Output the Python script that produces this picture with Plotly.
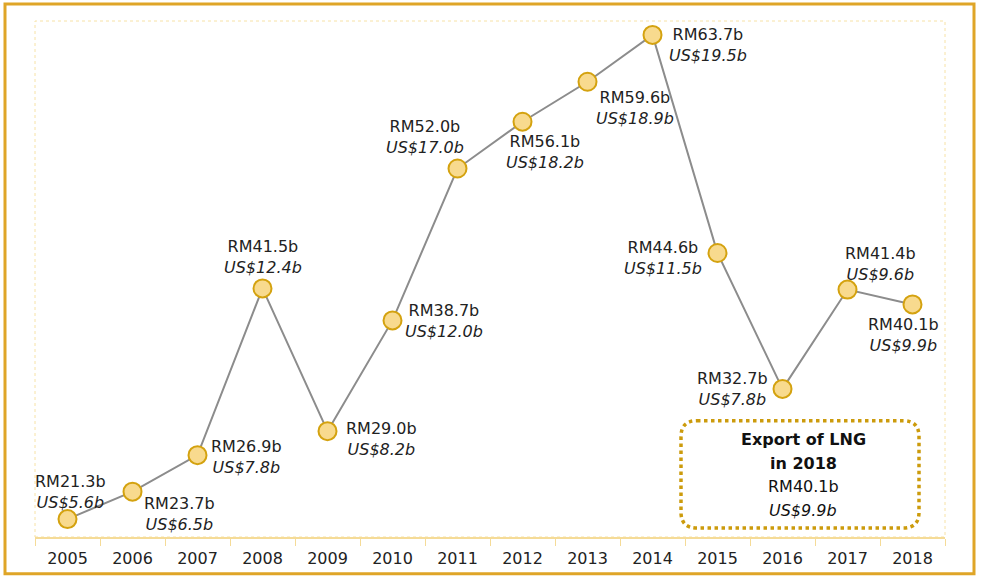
import plotly.graph_objects as go

years = ["2005", "2006", "2007", "2008", "2009", "2010", "2011",
         "2012", "2013", "2014", "2015", "2016", "2017", "2018"]
rm_values = [21.3, 23.7, 26.9, 41.5, 29.0, 38.7, 52.0,
             56.1, 59.6, 63.7, 44.6, 32.7, 41.4, 40.1]
usd_values = [5.6, 6.5, 7.8, 12.4, 8.2, 12.0, 17.0,
              18.2, 18.9, 19.5, 11.5, 7.8, 9.6, 9.9]

# label offsets (pixels) of each label block centre relative to its point
label_dx = [3, 47, 49, 0, 54, 51, -33, 22, 47, 55, -55, -50, 33, -9]
label_dy = [-27, 22, 2, -31, 8, 1, -32, 30, 26, 10, 5, 0, -26, 31]

FONT = "DejaVu Sans"
W, H = 981, 580
L, R, T, B = 35, 945, 21, 540  # plot area in pixels


def px(x):
    return (x - L) / (R - L)


def py(y):
    return (B - y) / (B - T)


fig = go.Figure()
fig.add_trace(go.Scatter(
    x=years, y=rm_values, mode="lines+markers",
    line=dict(color="#8C8C8C", width=2),
    marker=dict(size=18, color="#F8DA8E", line=dict(color="#D4A20F", width=2)),
    hoverinfo="skip", showlegend=False, cliponaxis=False,
))

annotations = []
for i, (yr, rm, us) in enumerate(zip(years, rm_values, usd_values)):
    annotations.append(dict(
        x=i, y=rm, xref="x", yref="y",
        text=f"RM{rm:.1f}b<br><i>US${us:.1f}b</i>",
        showarrow=False, xanchor="center", yanchor="middle",
        xshift=label_dx[i], yshift=-label_dy[i],
        font=dict(family=FONT, size=16, color="#222222"), align="center",
    ))

# summary box text, one line per annotation
box_lines = ["<b>Export of LNG</b>", "<b>in 2018</b>",
             f"RM{rm_values[-1]:.1f}b", f"<i>US${usd_values[-1]:.1f}b</i>"]
box_line_y = [442, 466, 489, 513]
for txt, yy in zip(box_lines, box_line_y):
    annotations.append(dict(
        x=px(803), y=py(yy), xref="paper", yref="paper",
        text=txt, showarrow=False, xanchor="center", yanchor="middle",
        font=dict(family=FONT, size=16, color="#111111"),
    ))


def rounded_rect(x0, y0, x1, y1, r):
    pts = [
        ("M", (x0 + r, y0)), ("L", (x1 - r, y0)), ("Q", (x1, y0), (x1, y0 + r)),
        ("L", (x1, y1 - r)), ("Q", (x1, y1), (x1 - r, y1)),
        ("L", (x0 + r, y1)), ("Q", (x0, y1), (x0, y1 - r)),
        ("L", (x0, y0 + r)), ("Q", (x0, y0), (x0 + r, y0)),
    ]
    s = ""
    for p in pts:
        s += p[0] + " " + " ".join(f"{px(a):.5f},{py(b):.5f}" for a, b in p[1:]) + " "
    return s + "Z"


shapes = [
    # outer border
    dict(type="rect", xref="paper", yref="paper",
         x0=px(5), x1=px(974), y0=py(4), y1=py(577),
         line=dict(color="#DFA527", width=3), layer="below"),
    # dotted plot frame
    dict(type="rect", xref="paper", yref="paper",
         x0=0, x1=1, y0=0, y1=1,
         line=dict(color="#F7E2A6", width=1, dash="dot"), layer="below"),
    # summary box
    dict(type="path", xref="paper", yref="paper",
         path=rounded_rect(681, 423, 919, 531, 16),
         line=dict(color="#CC9B0C", width=3.5, dash="dot")),
]

fig.update_layout(
    width=W, height=H,
    margin=dict(l=L, r=W - R, t=T, b=H - B),
    paper_bgcolor="white", plot_bgcolor="white",
    annotations=annotations, shapes=shapes,
    font=dict(family=FONT, size=16, color="#222222"),
    xaxis=dict(
        type="category", range=[-0.5, 13.5], showgrid=False,
        tickson="boundaries", ticks="outside", ticklen=7, tickcolor="#F5DB97",
        showline=True, linecolor="#F5DB97", linewidth=2,
        tickfont=dict(family=FONT, size=16, color="#222222"),
        ticklabelstandoff=6,
        fixedrange=True, zeroline=False,
    ),
    yaxis=dict(
        range=[19.73, 64.92], visible=False, showgrid=False, zeroline=False,
        fixedrange=True,
    ),
)

fig.write_html(
    "out.html", config={"displayModeBar": False},
    post_script=(
        "document.documentElement.style.margin='0';"
        "document.documentElement.style.overflow='hidden';"
        "document.body.style.margin='0';document.body.style.padding='0';"
        "document.body.style.overflow='hidden';"
    ),
)
